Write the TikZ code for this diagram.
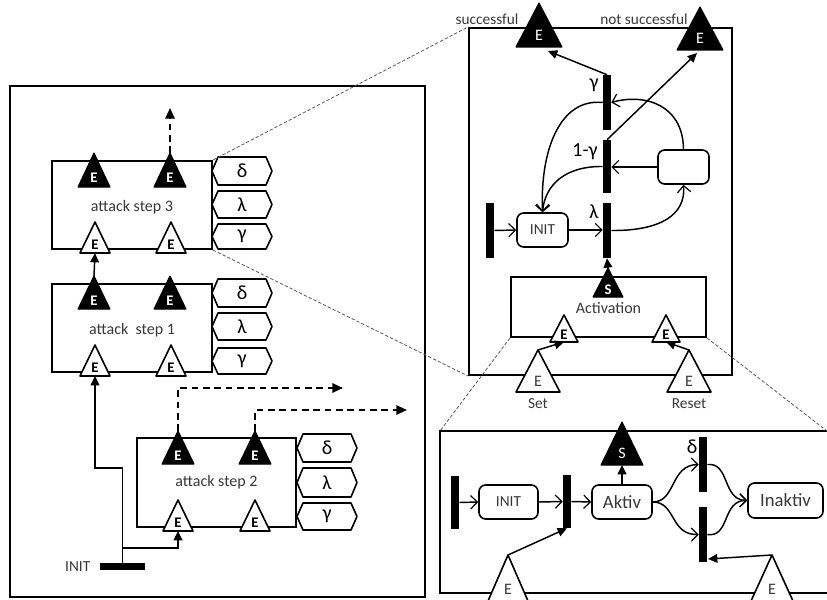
\documentclass[tikz,border=0pt]{standalone}
\usepackage{fontspec}
\setmainfont{Carlito}
\usetikzlibrary{arrows.meta,fit}
\newcommand{\myEfont}{\bfseries\fontsize{11}{12}\selectfont}
\newcommand{\myEbig}{\fontsize{12}{13}\selectfont}
\newcommand{\mylbl}{\fontsize{12}{14}\selectfont}
\newcommand{\mysmall}{\fontsize{11.5}{13}\selectfont}
\newcommand{\mygreek}{\fontsize{15}{17}\selectfont}
\newcommand{\mybig}{\fontsize{15}{17}\selectfont}
\newcommand{\mymid}{\fontsize{14}{16}\selectfont}
\newcommand{\mytri}[8]{%
  \path[#6] ({#2-#5},#4) -- (#2,#3) -- ({#2+#5},#4) -- cycle;
  \coordinate (#1-a) at (#2,#3);
  \coordinate (#1-b) at (#2,#4);
  \node[inner sep=0pt,#7] (#1) at (#2,{#4-0.26*(#4-#3)}) {#8};
}
\newcommand{\myhex}[5]{%
  \draw[line width=1.2pt,line join=round] (#2,{(#3+#4)/2}) -- ({#2+6},#3) -- ({#2+54},#3) -- ({#2+60},{(#3+#4)/2}) -- ({#2+54},#4) -- ({#2+6},#4) -- cycle;
  \node[font=\mygreek,inner sep=0pt] (#1) at ({#2+30},{(#3+#4)/2}) {#5};
}
\colorlet{txt}{black!78}
\tikzset{
  box/.style={draw,line width=1.5pt,inner sep=0pt},
  rbox/.style={draw,line width=1.2pt,rounded corners=5pt,inner sep=0pt},
  bar/.style={fill=black,draw=none,inner sep=0pt},
  conn/.style={line width=1.1pt},
  open/.style={conn,-{Straight Barb[length=5pt,width=10pt,line width=0.9pt]}},
  filltip/.style={conn,-{Triangle[length=7pt,width=6.5pt]}},
  dashy/.style={line width=1.5pt,dash pattern=on 5pt off 3.5pt,-{Triangle[length=8pt,width=7pt]}},
  zoomline/.style={gray!70!black,line width=0.6pt,dash pattern=on 2.5pt off 1.5pt},
  trib/.style={fill=black,draw=black,line width=0.8pt,line join=round},
  triw/.style={fill=white,draw=black,line width=1.2pt,line join=round},
}
\begin{document}
\begin{tikzpicture}[x=0.75pt,y=-0.75pt]
\clip (0,0) rectangle (827,599);

% ---------- left panel ----------
\node[box,fit={(10,86) (425,597)}] (leftpanel) {};

% attack step 3
\node[box,fit={(52,161) (212,249)},label={[font=\mylbl,text=txt,yshift=-2pt]center:attack step 3}] (s3) {};
\mytri{s3o1}{94}{153}{187}{16}{trib}{text=white,font=\myEfont}{E}
\mytri{s3o2}{170}{153}{187}{16}{trib}{text=white,font=\myEfont}{E}
\mytri{s3i1}{95}{222}{253}{15}{triw}{font=\myEfont}{E}
\mytri{s3i2}{171}{222}{253}{15}{triw}{font=\myEfont}{E}
\myhex{s3d}{212}{157}{185}{δ}
\myhex{s3l}{212}{191}{218}{λ}
\myhex{s3g}{212}{224}{249}{γ}

% attack step 1
\node[box,fit={(52,284) (212,372)},label={[font=\mylbl,text=txt,yshift=-2pt]center:attack\ \ step 1}] (s1) {};
\mytri{s1o1}{94}{276}{309}{16}{trib}{text=white,font=\myEfont}{E}
\mytri{s1o2}{170}{276}{309}{16}{trib}{text=white,font=\myEfont}{E}
\mytri{s1i1}{95}{345}{376}{15}{triw}{font=\myEfont}{E}
\mytri{s1i2}{171}{345}{376}{15}{triw}{font=\myEfont}{E}
\myhex{s1d}{212}{279}{307}{δ}
\myhex{s1l}{212}{313}{340}{λ}
\myhex{s1g}{212}{348}{374}{γ}

% attack step 2
\node[box,fit={(137,438) (296,527)},label={[font=\mylbl,text=txt]center:attack step 2}] (s2) {};
\mytri{s2o1}{178}{431}{464}{16}{trib}{text=white,font=\myEfont}{E}
\mytri{s2o2}{255}{431}{464}{16}{trib}{text=white,font=\myEfont}{E}
\mytri{s2i1}{178}{500}{531}{15}{triw}{font=\myEfont}{E}
\mytri{s2i2}{255}{500}{531}{15}{triw}{font=\myEfont}{E}
\myhex{s2d}{297}{434}{462}{δ}
\myhex{s2l}{297}{468}{497}{λ}
\myhex{s2g}{297}{503}{530}{γ}

% INIT bar and connectors
\node[bar,fit={(100,562.5) (145,569.5)}] (initbar) {};
\node[font=\mysmall,text=txt,anchor=east] (initlbl) at (95,567) {INIT};
\coordinate (up3) at (170,108);
\coordinate (out1) at (343,388);
\coordinate (out2) at (407,410);
\coordinate (jn) at (122.5,548);
\draw[dashy] (s3o2-a) -- (up3);
\draw[filltip] (s1o1-a) -- (s3i1-b);
\draw[filltip] (initbar.center) -- (122.5,468) -- (95,468) -- (s1i1-b);
\draw[filltip] (jn) -- (178,548) -- (s2i1-b);
\draw[dashy] (s2o1-a) -- (178,388) -- (out1);
\draw[dashy] (s2o2-a) -- (255,410) -- (out2);

% ---------- top right panel ----------
\node[box,fit={(469,28) (732,375)}] (tr) {};
\node[bar,fit={(603,75) (611,130)}] (gbar) {};
\node[bar,fit={(603,140) (611,193)}] (cgbar) {};
\node[bar,fit={(603,203) (611,258)}] (lbar) {};
\node[bar,fit={(486,203) (494,258)}] (trl) {};
\node[rbox,fit={(517,213) (568,247)},label={[font=\mysmall,text=txt]center:INIT}] (trinit) {};
\node[rbox,fit={(658,150) (709,184)}] (trbox) {};
\node[box,fit={(511,277) (706,337)},label={[font=\mylbl,text=txt,yshift=-1pt]center:Activation}] (act) {};

\node[font=\mybig] (gl) at (594,85) {γ};
\node[font=\mybig] (cgl) at (585,152) {1-γ};
\node[font=\mybig] (ll) at (594,212) {λ};
\node[font=\mysmall,text=txt] (succl) at (487,19) {successful};
\node[font=\mysmall,text=txt] (nsuccl) at (644,19) {not successful};

\mytri{succ}{539}{3}{47}{23}{trib}{text=white,font=\myEbig}{E}
\mytri{nsucc}{700}{7}{50}{23}{trib}{text=white,font=\myEbig}{E}
\mytri{acts}{608}{268}{297}{15}{trib}{text=white,font=\myEfont}{S}
\mytri{ae1}{564}{315}{342}{14}{triw}{font=\myEfont}{E}
\mytri{ae2}{666}{315}{342}{14}{triw}{font=\myEfont}{E}
\mytri{set}{538}{350}{392}{22}{triw}{font=\myEbig,text=txt}{E}
\mytri{reset}{689}{350}{392}{22}{triw}{font=\myEbig,text=txt}{E}
\node[font=\mysmall,text=txt] (setl) at (538,404) {Set};
\node[font=\mysmall,text=txt] (resetl) at (689,404) {Reset};

\coordinate (succin) at (548,51);
\coordinate (nsuccin) at (697,53);
\draw[filltip] (gbar.north) -- (succin);
\draw[filltip] (cgbar.north) -- (nsuccin);
\draw[open] (trbox.north) .. controls (683,105) and (645,93) .. (gbar.east);
\draw[open] (trbox.west) -- (cgbar.east |- trbox.west);
\draw[open] (gbar.west) .. controls (560,98) and (540,150) .. (trinit.north);
\draw[open] (cgbar.west) .. controls (565,166) and (545,185) .. (trinit.north);
\draw[open] (lbar.east) .. controls (660,231) and (686,215) .. (trbox.south);
\draw[open] (trl.east) -- (trinit.west);
\draw[open] (trinit.east) -- (lbar.west |- trinit.east);
\draw[filltip] (acts-a) -- (lbar.south);
\draw[filltip] (set-a) -- (ae1-b);
\draw[filltip] (reset-a) -- (ae2-b);

% ---------- bottom panel ----------
\coordinate (bpTR) at (827,431);
\coordinate (bpTL) at (440,431);
\coordinate (bpBL) at (440,593);
\coordinate (bpBR) at (827,593);
\draw[line width=1.5pt] (bpTR) -- (bpTL) -- (bpBL) -- (bpBR);
\node[bar,fit={(451,476) (459,529)}] (bl1) {};
\node[bar,fit={(563,475) (571,528)}] (bl2) {};
\node[bar,fit={(699,437) (707,492)}] (dbar) {};
\node[bar,fit={(699,507) (707,562)}] (lowbar) {};
\node[rbox,fit={(479,485) (538,519)},label={[font=\mysmall,text=txt]center:INIT}] (binit) {};
\node[rbox,fit={(592,485) (652,519)},label={[font=\mymid,text=txt]center:Aktiv}] (aktiv) {};
\node[rbox,fit={(748,483) (823,518)},label={[font=\mymid,text=txt]center:Inaktiv}] (inaktiv) {};
\node[font=\mybig] (dl) at (692,447) {δ};
\mytri{bs}{622}{422}{465}{21}{trib}{text=white,font=\myEbig}{S}
\mytri{be1}{508}{555}{601}{20}{triw}{font=\myEbig,text=txt}{E}
\mytri{be2}{772}{555}{601}{21}{triw}{font=\myEbig,text=txt}{E}
\coordinate (lbin) at (708,559);

\draw[open] (bl1.east) -- (binit.west);
\draw[open] (binit.east) -- (bl2.west);
\draw[open] (bl2.east) -- (aktiv.west);
\draw[filltip] (aktiv.north) -- (bs-b);
\draw[open] (aktiv.east) .. controls (676,502) and (670,465) .. (dbar.west);
\draw[open] (aktiv.east) .. controls (676,502) and (670,535) .. (lowbar.west);
\draw[open] (dbar.east) .. controls (730,462) and (722,500) .. (inaktiv.west);
\draw[open] (lowbar.east) .. controls (730,538) and (722,500) .. (inaktiv.west);
\draw[filltip] (be1-a) -- (bl2.south);
\draw[filltip] (be2-a) -- (lbin);

% ---------- zoom lines ----------
\draw[zoomline] (s3.north east) -- (tr.north west);
\draw[zoomline] (s3.south east) -- (tr.south west);
\draw[zoomline] (act.south west) -- (bpTL);
\draw[zoomline] (act.south east) -- (bpTR);
\end{tikzpicture}
\end{document}
